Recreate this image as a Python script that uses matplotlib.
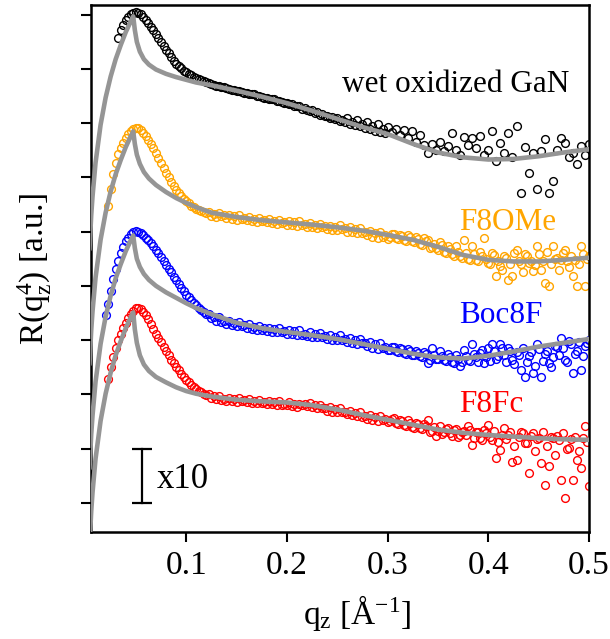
import numpy as np
import matplotlib
matplotlib.use('Agg')
import matplotlib.pyplot as plt

plt.rcParams['font.family'] = ['Liberation Serif', 'DejaVu Serif']
plt.rcParams['mathtext.fontset'] = 'custom'
plt.rcParams['mathtext.rm'] = 'Liberation Serif'
plt.rcParams['mathtext.it'] = 'Liberation Serif:italic'

# q grid of the measured points [1/A]
q_lo = [0.020, 0.0225, 0.025, 0.0275, 0.030, 0.0325, 0.035, 0.0375, 0.040, 0.0425,
        0.045, 0.0475, 0.050, 0.0525, 0.055, 0.0575, 0.060, 0.0625, 0.065, 0.0675,
        0.070, 0.0725, 0.075, 0.0775, 0.080, 0.0825, 0.085, 0.0875, 0.090, 0.0925,
        0.095, 0.0975, 0.100, 0.1025, 0.105, 0.1075, 0.110, 0.1125, 0.115, 0.1175, 0.120]
q_mid = [0.1225, 0.125, 0.1275, 0.130, 0.1325, 0.135, 0.1375, 0.140, 0.1425, 0.145,
         0.1475, 0.150, 0.1525, 0.155, 0.1575, 0.160, 0.1625, 0.165, 0.1675, 0.170,
         0.1725, 0.175, 0.1775, 0.180, 0.1825, 0.185, 0.1875, 0.190, 0.1925, 0.195,
         0.1975, 0.200, 0.2025, 0.205, 0.2075, 0.210, 0.2125, 0.215, 0.2175, 0.220,
         0.2225, 0.225, 0.2275, 0.230, 0.2325, 0.235, 0.2375, 0.240, 0.2425, 0.245,
         0.2475, 0.250, 0.2525, 0.255, 0.2575, 0.260, 0.2625, 0.265, 0.2675, 0.270,
         0.2725, 0.275, 0.2775, 0.280, 0.2825, 0.285, 0.2875, 0.290, 0.2925, 0.295,
         0.2975, 0.300]
q_hi = [0.304, 0.308, 0.312, 0.316, 0.320, 0.324, 0.328, 0.332, 0.336, 0.340,
        0.344, 0.348, 0.352, 0.356, 0.360, 0.364, 0.368, 0.372, 0.376, 0.380,
        0.384, 0.388, 0.392, 0.396, 0.400, 0.404, 0.408, 0.412, 0.416, 0.420,
        0.424, 0.428, 0.432, 0.436, 0.440, 0.444, 0.448, 0.452, 0.456, 0.460,
        0.464, 0.468, 0.472, 0.476, 0.480, 0.484, 0.488, 0.492, 0.496, 0.500]
# extra points in between (the three films are sampled more densely)
q_hi2 = [0.302, 0.306, 0.310, 0.314, 0.318, 0.322, 0.326, 0.330, 0.334, 0.338,
         0.342, 0.346, 0.350, 0.354, 0.358, 0.362, 0.366, 0.370, 0.374, 0.378,
         0.382, 0.386, 0.390, 0.394, 0.398, 0.402, 0.406, 0.410, 0.414, 0.418,
         0.422, 0.426, 0.430, 0.434, 0.438, 0.442, 0.446, 0.450, 0.454, 0.458,
         0.462, 0.466, 0.470, 0.474, 0.478, 0.482, 0.486, 0.490, 0.494, 0.498]

# log10 of R*q^4 (offset curves)
gan_lo = [None, None, None, None, None, 8.58, 8.72, 8.82, 8.90, 8.96,
          9.01, 9.04, 9.05, 9.04, 9.01, 8.96, 8.91, 8.85, 8.78, 8.71,
          8.64, 8.57, 8.50, 8.42, 8.35, 8.29, 8.22, 8.15, 8.10, 8.05,
          8.01, 7.97, 7.94, 7.91, 7.89, 7.86, 7.84, 7.82, 7.80, 7.78, 7.76]
gan_mid = [7.74, 7.72, 7.70, 7.69, 7.68, 7.66, 7.66, 7.64, 7.63, 7.62,
           7.61, 7.60, 7.59, 7.58, 7.56, 7.56, 7.54, 7.53, 7.53, 7.51,
           7.50, 7.49, 7.47, 7.47, 7.45, 7.44, 7.44, 7.41, 7.41, 7.39,
           7.38, 7.37, 7.35, 7.35, 7.32, 7.31, 7.31, 7.27, 7.28, 7.25,
           7.22, 7.24, 7.19, 7.20, 7.15, 7.17, 7.13, 7.14, 7.09, 7.12,
           7.07, 7.10, 7.04, 7.06, 7.02, 7.10, 6.99, 7.03, 6.97, 7.05,
           6.94, 6.98, 6.91, 7.02, 6.89, 6.95, 6.85, 6.99, 6.84, 6.90,
           6.81, 6.93]
gan_hi = [6.83, 6.90, 6.78, 6.88, 6.72, 6.85, 6.66, 6.78, 6.60, 6.45,
          6.62, 6.50, 6.66, 6.48, 6.58, 6.82, 6.51, 6.42, 6.75, 6.60,
          6.73, 6.55, 6.76, 6.42, 6.51, 6.85, 6.30, 6.64, 6.45, 6.82,
          6.38, 6.94, 5.72, 6.57, 6.08, 6.45, 5.78, 6.48, 6.70, 5.72,
          5.93, 6.51, 6.73, 6.64, 6.38, 6.45, 6.24, 6.58, 6.42, 6.62]

f8ome_lo = [None, 5.47, 5.78, 6.06, 6.27, 6.43, 6.54, 6.64, 6.73, 6.80,
            6.85, 6.90, 6.92, 6.91, 6.88, 6.82, 6.76, 6.69, 6.62, 6.54,
            6.45, 6.36, 6.27, 6.18, 6.09, 6.00, 5.92, 5.84, 5.77, 5.71,
            5.65, 5.60, 5.56, 5.52, 5.48, 5.45, 5.42, 5.40, 5.38, 5.36, 5.34]
f8ome_mid = [5.36, 5.29, 5.32, 5.27, 5.34, 5.28, 5.30, 5.25, 5.31, 5.23,
             5.28, 5.22, 5.30, 5.24, 5.26, 5.21, 5.27, 5.19, 5.24, 5.18,
             5.26, 5.20, 5.22, 5.17, 5.23, 5.16, 5.20, 5.15, 5.22, 5.16,
             5.18, 5.13, 5.20, 5.12, 5.17, 5.11, 5.19, 5.12, 5.14, 5.09,
             5.16, 5.08, 5.13, 5.07, 5.15, 5.08, 5.10, 5.05, 5.11, 5.03,
             5.09, 5.03, 5.12, 5.04, 5.06, 5.00, 5.08, 4.99, 5.04, 4.97,
             5.06, 4.98, 5.00, 4.94, 5.01, 4.91, 4.97, 4.89, 4.99, 4.90,
             4.93, 4.87]
f8ome_hi = [4.95, 4.88, 4.93, 4.85, 4.94, 4.82, 4.90, 4.78, 4.88, 4.85,
            4.72, 4.70, 4.80, 4.62, 4.74, 4.58, 4.73, 4.55, 4.85, 4.50,
            4.73, 4.47, 4.62, 4.88, 4.42, 4.60, 4.18, 4.36, 4.55, 4.11,
            4.18, 4.67, 4.40, 4.58, 4.43, 4.27, 4.73, 4.30, 4.05, 3.99,
            4.73, 4.52, 4.48, 4.67, 4.35, 4.18, 3.99, 4.73, 3.99, 4.55]
f8ome_hi2 = [4.90, 4.96, 4.86, 4.92, 4.83, 4.90, 4.80, 4.86, 4.76, 4.82,
             4.70, 4.78, 4.66, 4.75, 4.60, 4.68, 4.55, 4.63, 4.52, 4.60,
             4.48, 4.58, 4.45, 4.55, 4.50, 4.40, 4.56, 4.45, 4.30, 4.52,
             4.40, 4.60, 4.46, 4.25, 4.55, 4.45, 4.38, 4.58, 4.45, 4.62,
             4.40, 4.50, 4.30, 4.60, 4.45, 4.55, 4.48, 4.40, 4.58, 4.50]

boc8f_lo = [3.46, 3.67, 3.90, 4.12, 4.31, 4.46, 4.60, 4.72, 4.82, 4.89,
            4.95, 4.99, 5.01, 5.00, 4.97, 4.93, 4.89, 4.84, 4.79, 4.73,
            4.67, 4.60, 4.53, 4.46, 4.39, 4.32, 4.25, 4.17, 4.10, 4.03,
            3.96, 3.90, 3.84, 3.79, 3.74, 3.69, 3.64, 3.60, 3.56, 3.52, 3.49]
boc8f_mid = [3.49, 3.41, 3.43, 3.36, 3.42, 3.34, 3.36, 3.30, 3.36, 3.28,
             3.32, 3.26, 3.33, 3.26, 3.28, 3.22, 3.29, 3.20, 3.25, 3.19,
             3.26, 3.19, 3.22, 3.16, 3.23, 3.15, 3.20, 3.14, 3.22, 3.15,
             3.17, 3.12, 3.19, 3.11, 3.16, 3.10, 3.18, 3.10, 3.12, 3.07,
             3.14, 3.06, 3.11, 3.05, 3.13, 3.06, 3.07, 3.02, 3.09, 3.00,
             3.06, 3.00, 3.09, 3.01, 3.02, 2.96, 3.04, 2.95, 3.00, 2.93,
             3.02, 2.94, 2.95, 2.89, 2.96, 2.86, 2.92, 2.84, 2.94, 2.85,
             2.87, 2.81]
boc8f_hi = [2.88, 2.80, 2.86, 2.77, 2.84, 2.73, 2.80, 2.70, 2.78, 2.58,
            2.86, 2.66, 2.79, 2.63, 2.74, 2.60, 2.72, 2.52, 2.82, 2.64,
            2.92, 2.68, 2.76, 2.58, 2.86, 2.92, 2.66, 2.92, 2.72, 2.85,
            2.64, 2.78, 2.45, 2.31, 2.70, 2.40, 2.92, 2.31, 2.75, 2.58,
            2.69, 2.88, 3.04, 2.64, 2.98, 2.40, 2.80, 2.45, 2.89, 3.00]
boc8f_hi2 = [2.82, 2.87, 2.78, 2.84, 2.74, 2.80, 2.72, 2.77, 2.68, 2.74,
             2.64, 2.72, 2.66, 2.70, 2.62, 2.68, 2.58, 2.66, 2.60, 2.70,
             2.62, 2.75, 2.60, 2.82, 2.68, 2.62, 2.80, 2.70, 2.86, 2.60,
             2.80, 2.55, 2.72, 2.85, 2.60, 2.78, 2.52, 2.84, 2.62, 2.80,
             2.50, 2.90, 2.72, 2.86, 2.60, 2.92, 2.75, 2.96, 2.70, 2.94]

f8fc_lo = [None, 2.28, 2.50, 2.69, 2.86, 3.00, 3.11, 3.22, 3.32, 3.41,
           3.48, 3.54, 3.59, 3.60, 3.57, 3.52, 3.46, 3.38, 3.30, 3.21,
           3.12, 3.04, 2.96, 2.88, 2.80, 2.72, 2.64, 2.57, 2.50, 2.44,
           2.38, 2.32, 2.27, 2.22, 2.18, 2.14, 2.10, 2.07, 2.04, 2.01, 1.99]
f8fc_mid = [2.00, 1.93, 1.96, 1.91, 1.97, 1.90, 1.92, 1.88, 1.93, 1.87,
            1.91, 1.86, 1.93, 1.87, 1.89, 1.85, 1.91, 1.84, 1.88, 1.84,
            1.90, 1.84, 1.86, 1.82, 1.88, 1.82, 1.85, 1.81, 1.88, 1.81,
            1.83, 1.80, 1.86, 1.79, 1.82, 1.77, 1.83, 1.81, 1.82, 1.78,
            1.84, 1.77, 1.80, 1.74, 1.81, 1.74, 1.75, 1.70, 1.76, 1.68,
            1.73, 1.67, 1.75, 1.67, 1.68, 1.63, 1.70, 1.61, 1.66, 1.60,
            1.67, 1.59, 1.60, 1.55, 1.62, 1.53, 1.58, 1.51, 1.60, 1.52,
            1.54, 1.49]
f8fc_hi = [1.55, 1.47, 1.52, 1.44, 1.53, 1.40, 1.47, 1.37, 1.45, 1.53,
           1.33, 1.23, 1.42, 1.30, 1.38, 1.23, 1.36, 1.25, 1.33, 1.41,
           1.07, 1.30, 1.20, 1.35, 1.44, 1.15, 0.83, 0.98, 1.38, 1.25,
           0.76, 0.79, 1.30, 1.10, 0.55, 1.29, 1.18, 0.74, 0.33, 0.67,
           1.20, 1.23, 0.42, 0.09, 1.01, 0.42, 0.79, 0.64, 1.41, 0.30]
f8fc_hi2 = [1.50, 1.56, 1.46, 1.50, 1.42, 1.48, 1.38, 1.45, 1.36, 1.42,
            1.30, 1.40, 1.33, 1.26, 1.36, 1.28, 1.34, 1.22, 1.31, 1.25,
            1.35, 1.20, 1.30, 1.15, 1.28, 1.22, 1.32, 1.12, 1.25, 1.18,
            1.30, 1.05, 1.22, 1.28, 1.10, 1.24, 0.95, 1.20, 1.30, 1.05,
            1.22, 0.88, 1.15, 1.28, 1.00, 1.18, 1.22, 0.95, 1.20, 1.12]

# fitted curves (log10)
q_fit = [0.004, 0.0057, 0.007, 0.010, 0.015, 0.020, 0.025, 0.030, 0.035, 0.040,
         0.0445, 0.0474, 0.049, 0.051, 0.054, 0.058, 0.063, 0.070, 0.080, 0.090,
         0.100, 0.110, 0.125, 0.150, 0.175, 0.200, 0.225, 0.250, 0.275, 0.300,
         0.325, 0.350, 0.375, 0.400, 0.425, 0.450, 0.475, 0.500]
gan_fit = [4.67, 5.30, 5.65, 6.27, 6.97, 7.47, 7.86, 8.18, 8.44, 8.68,
           8.86, 8.97, 8.72, 8.50, 8.32, 8.18, 8.08, 7.99, 7.91, 7.85,
           7.80, 7.75, 7.70, 7.60, 7.49, 7.37, 7.23, 7.08, 6.93, 6.80,
           6.62, 6.46, 6.37, 6.33, 6.34, 6.39, 6.46, 6.52]
f8ome_fit = [2.55, 3.18, 3.53, 4.15, 4.85, 5.35, 5.74, 6.06, 6.32, 6.56,
             6.74, 6.85, 6.62, 6.42, 6.25, 6.10, 5.98, 5.86, 5.73, 5.62,
             5.53, 5.45, 5.35, 5.27, 5.21, 5.17, 5.13, 5.08, 5.02, 4.94,
             4.85, 4.72, 4.57, 4.48, 4.45, 4.45, 4.48, 4.52]
boc8f_fit = [0.63, 1.26, 1.61, 2.23, 2.93, 3.43, 3.82, 4.14, 4.40, 4.64,
             4.82, 4.93, 4.70, 4.50, 4.35, 4.22, 4.11, 4.00, 3.88, 3.78,
             3.68, 3.59, 3.48, 3.32, 3.22, 3.15, 3.09, 3.02, 2.93, 2.84,
             2.75, 2.68, 2.66, 2.71, 2.79, 2.88, 2.95, 3.02]
f8fc_fit = [-0.79, -0.16, 0.19, 0.81, 1.51, 2.01, 2.40, 2.72, 2.98, 3.22,
            3.40, 3.51, 3.20, 2.95, 2.72, 2.55, 2.43, 2.32, 2.22, 2.13,
            2.06, 2.01, 1.96, 1.90, 1.87, 1.85, 1.80, 1.72, 1.62, 1.53,
            1.44, 1.35, 1.29, 1.25, 1.22, 1.19, 1.17, 1.16]

labels = ['wet oxidized GaN', 'F8OMe', 'Boc8F', 'F8Fc']
colors = ['black', '#FFA500', '#0000FF', '#FF0000']
fitcolor = '#959595'

q_all = np.array(q_lo + q_mid + q_hi)
series = [gan_lo + gan_mid + gan_hi,
          f8ome_lo + f8ome_mid + f8ome_hi,
          boc8f_lo + boc8f_mid + boc8f_hi,
          f8fc_lo + f8fc_mid + f8fc_hi]
extra = [None, f8ome_hi2, boc8f_hi2, f8fc_hi2]
fits = [gan_fit, f8ome_fit, boc8f_fit, f8fc_fit]

fig = plt.figure(figsize=(6.10, 6.39), dpi=100)
ax = fig.add_axes([0.1492, 0.1674, 0.8164, 0.8248])

for vals, ex, c in zip(series, extra, colors):
    v = np.array([np.nan if x is None else x for x in vals], dtype=float)
    ax.plot(q_all, np.power(10.0, v), 'o', mfc='none', mec=c, ms=5.6, mew=1.0, zorder=2)
    if ex is not None:
        ax.plot(q_hi2, np.power(10.0, np.array(ex)), 'o', mfc='none', mec=c,
                ms=5.6, mew=1.0, zorder=2)

for f in fits:
    ax.plot(q_fit, np.power(10.0, np.array(f)), '-', color=fitcolor, lw=3.3,
            solid_capstyle='round', zorder=3)

ax.set_yscale('log')
ax.set_xlim(0.0055, 0.5)
ax.set_ylim(10**-0.54, 10**9.18)
ax.set_xticks([0.1, 0.2, 0.3, 0.4, 0.5])
ax.set_xticklabels(['0.1', '0.2', '0.3', '0.4', '0.5'])
ax.set_yticks([10.0**k for k in range(10)])
ax.yaxis.set_minor_locator(matplotlib.ticker.NullLocator())
ax.set_yticklabels([])
ax.tick_params(axis='both', direction='out', length=7, width=1.5, labelsize=24, pad=6)
for s in ax.spines.values():
    s.set_linewidth(1.8)

ax.set_xlabel(r'q$_{\rm z}$ [Å$^{-1}$]', fontsize=24, labelpad=9, x=0.535)
ax.set_ylabel(r'R(q$_{\rm z}^{\rm 4}$) [a.u.]', fontsize=24, labelpad=14)

# sample labels
ax.text(0.504, 0.835, labels[0], transform=ax.transAxes, fontsize=22.5, color=colors[0])
ax.text(0.739, 0.573, labels[1], transform=ax.transAxes, fontsize=22.5, color=colors[1])
ax.text(0.739, 0.397, labels[2], transform=ax.transAxes, fontsize=22.5, color=colors[2])
ax.text(0.739, 0.228, labels[3], transform=ax.transAxes, fontsize=22.5, color=colors[3])

# one-decade scale bar
ax.plot([0.0563, 0.0563], [1.0, 10.0], color='black', lw=1.6)
ax.plot([0.0563, 0.0563], [1.0, 10.0], '_', color='black', ms=15, mew=1.6)
ax.text(0.071, 10**0.27, 'x10', fontsize=25)

fig.savefig('out.png', dpi=100)
